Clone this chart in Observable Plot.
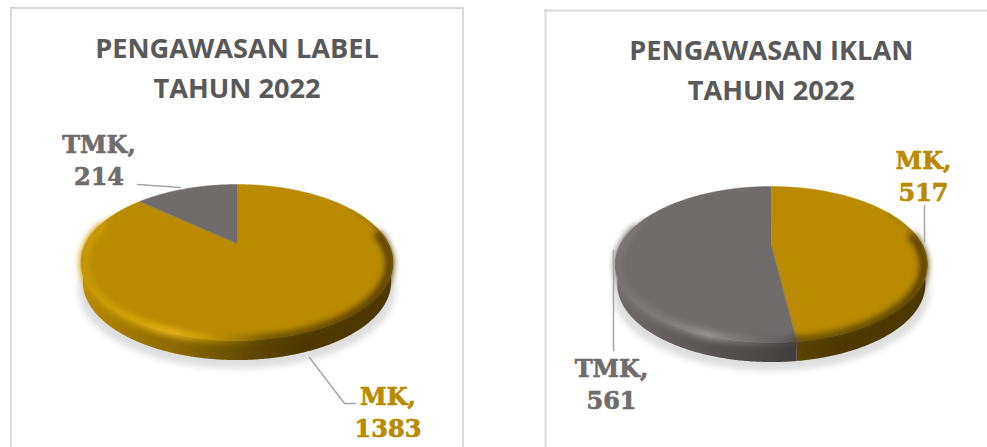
<!DOCTYPE html>
<html>
<head>
<meta charset="utf-8">
<script src="https://cdn.jsdelivr.net/npm/d3@7"></script>
<script src="https://cdn.jsdelivr.net/npm/@observablehq/plot@0.6"></script>
<style>html,body{margin:0;padding:0;background:#fff}svg{display:block}</style>
</head>
<body>
<div id="chart"></div>
<script>
// Data
const categories = ["MK", "TMK"];
const labelValues = [1383, 214];
const iklanValues = [517, 561];
const labelTitle = "PENGAWASAN LABEL\nTAHUN 2022";
const iklanTitle = "PENGAWASAN IKLAN\nTAHUN 2022";

// Styles
const palette = {
  MK: {top: "#ba8b00", text: "#ba8b00", rim: "#cb9b04"},
  TMK: {top: "#716c6c", text: "#716c6c", rim: "#7e7979"}
};

// Layout: pie placement, perspective of the disc
const K = 0.2436, A = 151.3, B = 73.4, DEPTH = 19.5;
const pies = [
  {id: "a", cx: 236.5, cy: 243, values: labelValues, title: labelTitle, titleY: 65,
   labels: [{x: 387.5, y: 410}, {x: 98.5, y: 158.5}],
   leaders: [[[309, 357], [344, 403], [355, 403]], [[137, 184], [180, 187]]]},
  {id: "b", cx: 770.8, cy: 245, values: iklanValues, title: iklanTitle, titleY: 67,
   labels: [{x: 923, y: 174}, {x: 611, y: 382}],
   leaders: [[[924, 205], [924, 241]], [[613, 250], [613, 350]]]}
];

const project = (p, theta, r = 1, dy = 0, sx = 1) => {
  const u = r * Math.sin(theta), v = -r * Math.cos(theta), w = 1 - K * v;
  return {x: p.cx + sx * A * u / w, y: p.cy + B * v / w + dy};
};
const arc = (p, a0, a1, r = 1, dy = 0, sx = 1) => {
  const n = Math.max(2, Math.ceil(Math.abs(a1 - a0) / 0.01));
  return d3.range(n + 1).map(i => project(p, a0 + (a1 - a0) * i / n, r, dy, sx));
};
const TAU = 2 * Math.PI;
const FRONT0 = Math.PI / 2 - Math.asin(K), FRONT1 = TAU - FRONT0;

const marks = [];

// gradients (only style definitions)
const gradStops = {
  MK: [[0, "#b98a00"], [.14, "#a37a00"], [.32, "#8a6700"], [.55, "#5f4600"], [.72, "#4c3800"], [1, "#4c3800"]],
  TMK: [[0, "#716c6c"], [.14, "#656161"], [.32, "#575353"], [.55, "#434040"], [.72, "#3c3939"], [1, "#3c3939"]]
};
const hiStops = {
  MK: [[0, "#c89a06", .9], [.18, "#d8a80a", 1], [.3, "#e8b61c", 1], [.44, "#c49500", .7], [.6, "#a07800", 0], [1, "#a07800", 0]],
  TMK: [[0, "#7a7575", .9], [.18, "#858181", 1], [.3, "#9c9898", 1], [.44, "#7c7878", .7], [.6, "#666", 0], [1, "#666", 0]]
};
const dkStops = {
  MK: [[0, "#4c3800", 0], [.4, "#6a4f00", 0], [.6, "#5a4300", .85], [1, "#4c3800", 1]],
  TMK: [[0, "#3c3939", 0], [.4, "#4a4747", 0], [.6, "#444", .85], [1, "#3c3939", 1]]
};
marks.push(() => {
  const defs = d3.create("svg:defs");
  for (const p of pies) for (const c of categories) {
    const add = (name, stops) => {
      const g = defs.append("linearGradient").attr("id", `${name}-${p.id}-${c}`)
        .attr("gradientUnits", "userSpaceOnUse")
        .attr("x1", p.cx - 156).attr("x2", p.cx + 156).attr("y1", 0).attr("y2", 0);
      for (const s of stops) g.append("stop").attr("offset", s[0]).attr("stop-color", s[1]).attr("stop-opacity", s[2] ?? 1);
    };
    add("side", gradStops[c]);
    add("hi", hiStops[c]);
    add("dk", dkStops[c]);
  }
  return defs.node();
});

// frames
const frameColor = "#d9d9d9";
marks.push(
  Plot.ruleY([7.5], {x1: 10, x2: 463, stroke: frameColor, strokeWidth: 2}),
  Plot.ruleX([10.5, 462.5], {y1: 7, y2: 447, stroke: frameColor, strokeWidth: 2}),
  Plot.ruleY([10], {x1: 544, x2: 987, stroke: frameColor, strokeWidth: 2}),
  Plot.ruleX([545], {y1: 9, y2: 447, stroke: frameColor, strokeWidth: 2})
);

for (const p of pies) {
  const slices = d3.pie().sort(null).value(d => d.value).startAngle(0).endAngle(TAU)(
    categories.map((c, i) => ({category: c, value: p.values[i]}))
  );

  // soft ground shadow
  marks.push(Plot.line(arc(p, 0, TAU, 1.0, 28, 1.015), {
    x: "x", y: "y", fill: "#dedede", stroke: "none", imageFilter: "blur(3px)"
  }));

  // sides (front part of the disc only)
  for (const s of slices) {
    const c = s.data.category;
    const a0 = Math.max(s.startAngle, FRONT0), a1 = Math.min(s.endAngle, FRONT1);
    if (a1 <= a0) continue;
    const upper = arc(p, a0, a1, 1, 0), lower = arc(p, a0, a1, 1, DEPTH, 0.988);
    marks.push(Plot.line([...upper, ...lower.reverse()], {
      x: "x", y: "y", fill: `url(#side-${p.id}-${c})`, stroke: "none"
    }));
  }

  // top face
  for (const s of slices) {
    const c = s.data.category;
    marks.push(Plot.line([project(p, 0, 0), ...arc(p, s.startAngle, s.endAngle)], {
      x: "x", y: "y", fill: palette[c].top, stroke: palette[c].top, strokeWidth: 0.5
    }));
  }

  // bevel over the edge between top face and side
  for (const s of slices) {
    const c = s.data.category;
    const a0 = Math.max(s.startAngle, FRONT0), a1 = Math.min(s.endAngle, FRONT1);
    if (a1 > a0) {
      marks.push(Plot.line(arc(p, Math.max(a0, 1.42), a1, 0.98, 2), {
        x: "x", y: "y", stroke: `url(#dk-${p.id}-${c})`, strokeWidth: 8, fill: "none",
        imageFilter: "blur(3px)"
      }));
      marks.push(Plot.line(arc(p, a0, a1, 0.985, 1), {
        x: "x", y: "y", stroke: `url(#hi-${p.id}-${c})`, strokeWidth: 8, fill: "none",
        imageFilter: "blur(3px)"
      }));
    }
    // soft brighter upper left rim, soft darker upper right rim
    const b0 = Math.max(s.startAngle, 4.55), b1 = Math.min(s.endAngle, 5.1);
    if (b1 > b0) marks.push(Plot.line(arc(p, b0, b1, 0.98), {
      x: "x", y: "y", stroke: palette[c].rim, strokeWidth: 5, strokeOpacity: 0.55, fill: "none",
      imageFilter: "blur(2px)"
    }));
    const d0 = Math.max(s.startAngle, 1.05), d1 = Math.min(s.endAngle, 1.85);
    if (d1 > d0) marks.push(Plot.line(arc(p, d0, d1, 0.985), {
      x: "x", y: "y", stroke: "#6b5000", strokeWidth: 2, strokeOpacity: 0.3, fill: "none",
      imageFilter: "blur(1.5px)"
    }));
  }

  // leaders
  p.leaders.forEach(l => marks.push(Plot.line(l.map(([x, y]) => ({x, y})), {
    x: "x", y: "y", stroke: "#a6a6a6", strokeWidth: 1.5
  })));

  // data labels
  marks.push(Plot.text(slices.map((s, i) => ({
    text: `${s.data.category},\n${s.data.value}`, x: p.labels[i].x, y: p.labels[i].y, c: s.data.category
  })), {
    x: "x", y: "y", text: "text", fill: d => palette[d.c].text, stroke: d => palette[d.c].text,
    strokeWidth: 0.7, fontFamily: "'DejaVu Serif'", fontWeight: 700, fontSize: 24, lineHeight: 1.33,
    lineAnchor: "middle", textAnchor: "middle"
  }));

  // title
  marks.push(Plot.text([p.title], {
    x: () => p.cx, y: () => p.titleY, text: d => d, fill: "#595959",
    fontFamily: "'Open Sans'", fontWeight: 700, fontSize: 27.2, lineHeight: 1.44,
    lineAnchor: "middle", textAnchor: "middle"
  }));
}

const chart = Plot.plot({
  width: 987, height: 447, margin: 0,
  x: {domain: [0, 987], range: [0, 987], axis: null},
  y: {domain: [0, 447], range: [0, 447], axis: null},
  style: {background: "#fff"},
  marks
});
document.getElementById("chart").append(chart);
</script>
</body>
</html>
